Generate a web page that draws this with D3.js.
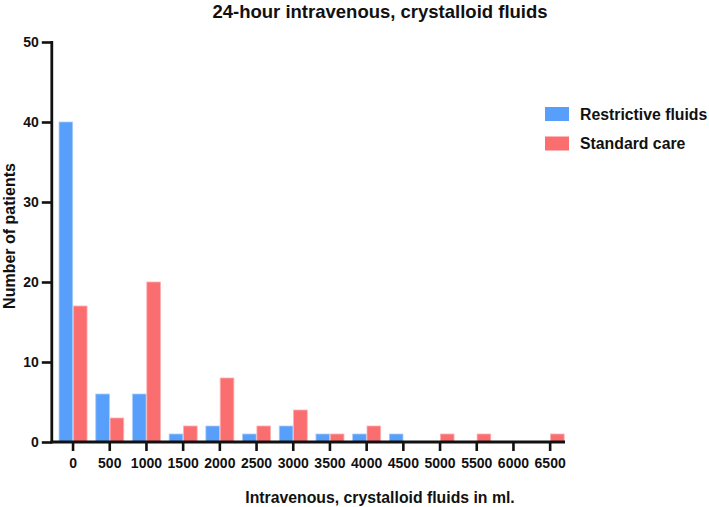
<!DOCTYPE html>
<html>
<head>
<meta charset="utf-8">
<script src="https://cdn.jsdelivr.net/npm/d3@7"></script>
<style>
  body { margin: 0; background: #fff; }
  text { font-family: "Liberation Sans", Arial, sans-serif; font-weight: bold; fill: #111; }
</style>
</head>
<body>
<svg id="chart" width="709" height="507"></svg>
<script>
// volumes in ml
const categories = ["0", "500", "1000", "1500", "2000", "2500", "3000", "3500", "4000", "4500", "5000", "5500", "6000", "6500"];
const restrictive = [40, 6, 6, 1, 2, 1, 2, 1, 1, 1, 0, 0, 0, 0];
const standard = [17, 3, 20, 2, 8, 2, 4, 1, 2, 0, 1, 1, 0, 1];
const seriesNames = ["Restrictive fluids", "Standard care"];
const yTicks = [0, 10, 20, 30, 40, 50];

const colors = ["#579ffb", "#fb6e70"];
const strokes = ["#a9cdfb", "#fcb0b1"];

const svg = d3.select('#chart');

const x = d3.scaleBand()
    .domain(categories)
    .range([54.7, 568.5]);

const y = d3.scaleLinear()
    .domain([0, 50])
    .range([442, 42]);

// inner scale for the two series inside each group
const xs = d3.scaleBand()
    .domain([0, 1])
    .range([-14, 14])
    .paddingInner(0.05);

const rows = categories.map((c, i) => ({ cat: c, vals: [restrictive[i], standard[i]] }));

const groups = svg.append('g')
    .selectAll('g')
    .data(rows)
    .enter()
    .append('g')
    .attr('transform', d => `translate(${x(d.cat) + x.bandwidth() / 2},0)`);

groups.selectAll('rect')
    .data(d => d.vals.map((v, k) => ({ v, k })).filter(e => e.v > 0))
    .enter()
    .append('rect')
    .attr('x', d => xs(d.k))
    .attr('width', xs.bandwidth())
    .attr('y', d => y(d.v))
    .attr('height', d => y(0) - y(d.v))
    .attr('fill', d => colors[d.k])
    .attr('stroke', d => strokes[d.k])
    .attr('stroke-width', 0.8);

// y axis
const yAxis = svg.append('g')
    .attr('transform', 'translate(51.8,0)')
    .call(d3.axisLeft(y).tickValues(yTicks).tickSize(10).tickPadding(3));
yAxis.select('.domain').remove();
yAxis.selectAll('.tick line').attr('stroke', '#111').attr('stroke-width', 2.6);
yAxis.selectAll('.tick text')
    .style('font-family', '"Liberation Sans", Arial, sans-serif')
    .style('font-size', '14px')
    .style('font-weight', 'bold')
    .attr('fill', '#111');

// x axis
const xAxis = svg.append('g')
    .attr('transform', 'translate(0,442)')
    .call(d3.axisBottom(x).tickSize(9).tickPadding(7));
xAxis.select('.domain').remove();
xAxis.selectAll('.tick line').attr('stroke', '#111').attr('stroke-width', 2.6);
xAxis.selectAll('.tick text')
    .style('font-family', '"Liberation Sans", Arial, sans-serif')
    .style('font-size', '14px')
    .style('font-weight', 'bold')
    .attr('fill', '#111');

// axis lines drawn on top
svg.append('line')
    .attr('x1', 51.8).attr('x2', 51.8)
    .attr('y1', 41).attr('y2', 443.3)
    .attr('stroke', '#111').attr('stroke-width', 2.8);
svg.append('line')
    .attr('x1', 50.4).attr('x2', 565)
    .attr('y1', 442).attr('y2', 442)
    .attr('stroke', '#111').attr('stroke-width', 2.8);

// title and axis labels
svg.append('text')
    .attr('x', 380).attr('y', 18)
    .attr('text-anchor', 'middle')
    .style('font-size', '18.5px')
    .text('24-hour intravenous, crystalloid fluids');

svg.append('text')
    .attr('x', 380).attr('y', 503)
    .attr('text-anchor', 'middle')
    .style('font-size', '15.8px')
    .text('Intravenous, crystalloid fluids in ml.');

svg.append('text')
    .attr('transform', 'translate(15,236) rotate(-90)')
    .attr('text-anchor', 'middle')
    .style('font-size', '16px')
    .text('Number of patients');

// legend
const legend = svg.append('g')
    .selectAll('g')
    .data(seriesNames)
    .enter()
    .append('g')
    .attr('transform', (d, i) => `translate(545,${107 + i * 29.5})`);

legend.append('rect')
    .attr('width', 24).attr('height', 14)
    .attr('fill', (d, i) => colors[i]);

legend.append('text')
    .attr('x', 35).attr('y', 12.5)
    .style('font-size', '15.8px')
    .text(d => d);
</script>
</body>
</html>
